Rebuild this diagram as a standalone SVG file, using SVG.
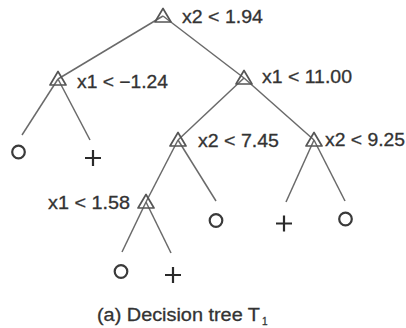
<svg xmlns="http://www.w3.org/2000/svg" width="406" height="328" viewBox="0 0 406 328">
<defs>
<style>
.edge{stroke:#6a6a6a;stroke-width:1.5;fill:none}
.tri{stroke:#555;stroke-width:1.7;fill:none;stroke-linejoin:round}
.lbl{font-family:"Liberation Sans",Arial,sans-serif;font-size:18px;fill:#333;stroke:#333;stroke-width:0.3}
.leafO{stroke:#3a3a3a;stroke-width:2.2;fill:none}
.leafP{stroke:#2a2a2a;stroke-width:2.2;fill:none}
</style>
<path id="tri" class="tri" d="M0,-7.5 L-8,6 L8,6 Z"/>
</defs>
<rect width="406" height="328" fill="#fff"/>
<g id="connectors">
<line class="edge" x1="163" y1="16" x2="58" y2="79"/>
<line class="edge" x1="163" y1="16" x2="244" y2="78"/>
<line class="edge" x1="58" y1="79" x2="22" y2="135"/>
<line class="edge" x1="58" y1="79" x2="90" y2="140"/>
<line class="edge" x1="244" y1="78" x2="178" y2="140"/>
<line class="edge" x1="244" y1="78" x2="314" y2="140"/>
<line class="edge" x1="178" y1="140" x2="146" y2="202"/>
<line class="edge" x1="178" y1="140" x2="216" y2="201"/>
<line class="edge" x1="314" y1="140" x2="286" y2="202"/>
<line class="edge" x1="314" y1="140" x2="345" y2="201"/>
<line class="edge" x1="146" y1="202" x2="122" y2="252"/>
<line class="edge" x1="146" y1="202" x2="171" y2="253"/>
</g>
<g id="n_root"><use href="#tri" x="163" y="16"/><text class="lbl" x="182" y="22.5" textLength="81" lengthAdjust="spacingAndGlyphs">x2 &lt; 1.94</text></g>
<g id="n_l1"><use href="#tri" x="58" y="79"/><text class="lbl" x="77" y="88" textLength="91" lengthAdjust="spacingAndGlyphs">x1 &lt; −1.24</text></g>
<g id="n_r1"><use href="#tri" x="244" y="78"/><text class="lbl" x="262" y="83" textLength="90" lengthAdjust="spacingAndGlyphs">x1 &lt; 11.00</text></g>
<g id="n_x2_745"><use href="#tri" x="178" y="140"/><text class="lbl" x="198" y="147" textLength="81" lengthAdjust="spacingAndGlyphs">x2 &lt; 7.45</text></g>
<g id="n_x2_925"><use href="#tri" x="314" y="140"/><text class="lbl" x="325" y="146" textLength="80" lengthAdjust="spacingAndGlyphs">x2 &lt; 9.25</text></g>
<g id="n_x1_158"><use href="#tri" x="146" y="202"/><text class="lbl" x="48" y="209" textLength="82" lengthAdjust="spacingAndGlyphs">x1 &lt; 1.58</text></g>
<g id="leaf1"><circle class="leafO" cx="18.5" cy="152" r="6.3"/></g>
<g id="leaf2"><path class="leafP" d="M85,158 H101 M93,150 V166"/></g>
<g id="leaf3"><circle class="leafO" cx="216" cy="220.5" r="6.3"/></g>
<g id="leaf4"><circle class="leafO" cx="121" cy="271.5" r="6.3"/></g>
<g id="leaf5"><path class="leafP" d="M165,275 H181 M173,267 V283"/></g>
<g id="leaf6"><path class="leafP" d="M276,223.5 H292 M284,215.5 V231.5"/></g>
<g id="leaf7"><circle class="leafO" cx="345.5" cy="219" r="6.3"/></g>
<g id="caption"><text class="lbl" x="97" y="321" textLength="163" lengthAdjust="spacingAndGlyphs">(a) Decision tree T</text><text class="lbl" x="262" y="325" font-size="10" style="font-size:10px">1</text></g>
</svg>
